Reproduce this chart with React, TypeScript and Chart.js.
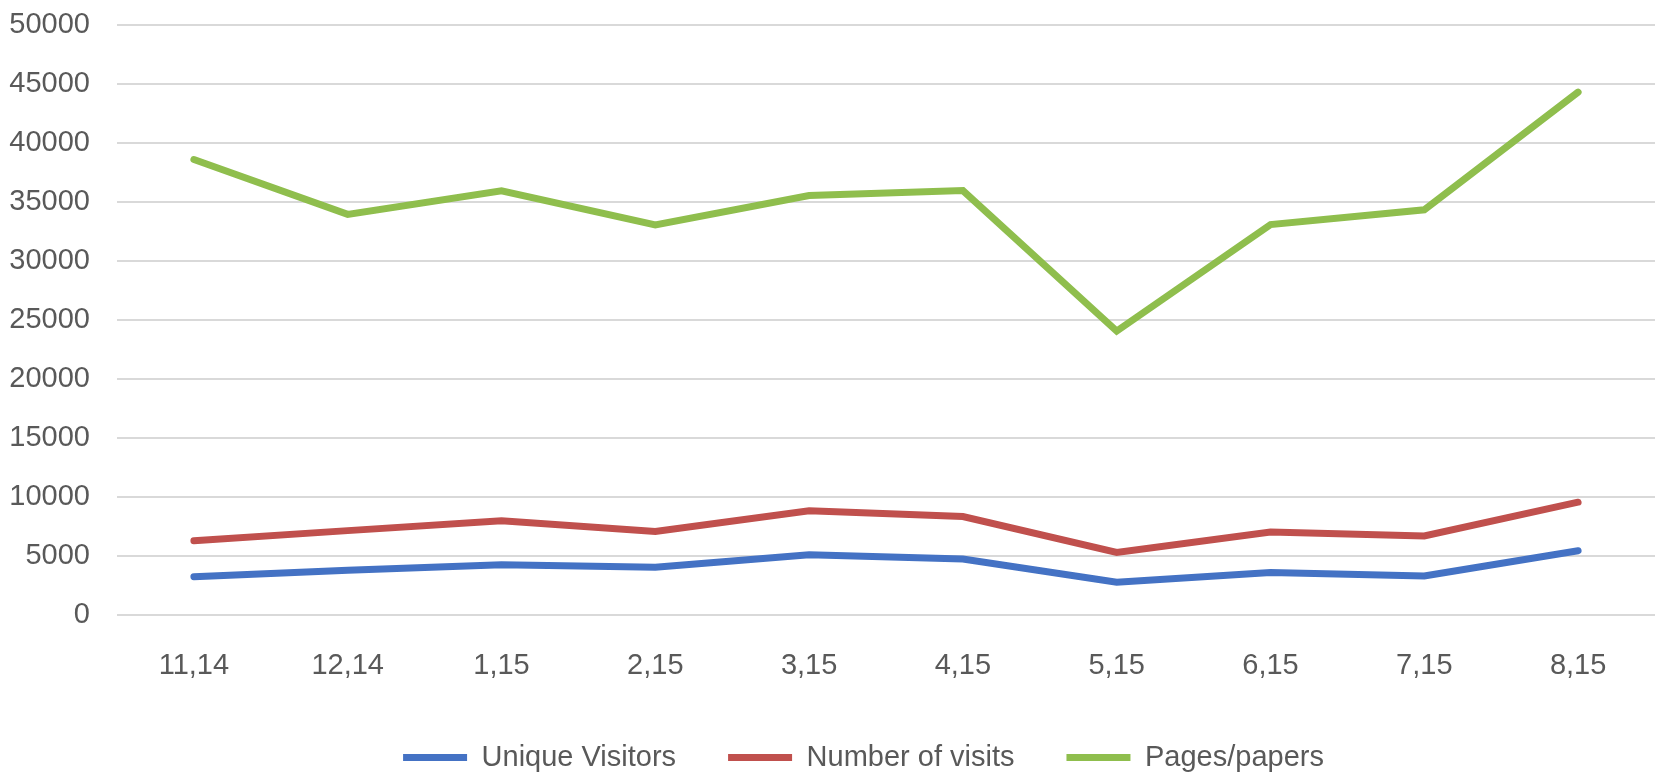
import React, { useEffect, useRef } from "react";
import { Chart, registerables } from "chart.js";

Chart.register(...registerables);

const categories = ["11,14", "12,14", "1,15", "2,15", "3,15", "4,15", "5,15", "6,15", "7,15", "8,15"];
const uniqueVisitors = [3250, 3800, 4250, 4050, 5100, 4750, 2770, 3600, 3300, 5450];
const numberOfVisits = [6300, 7150, 7990, 7080, 8830, 8340, 5300, 7030, 6700, 9560];
const pagesPapers = [38600, 33950, 35950, 33050, 35550, 35970, 24060, 33090, 34340, 44310];
const yTicks = [0, 5000, 10000, 15000, 20000, 25000, 30000, 35000, 40000, 45000, 50000];

const FONT = "'Liberation Sans', Arial, sans-serif";
const TEXT = "#595959";
const FS = 29;

export default function App() {
  const ref = useRef<HTMLCanvasElement | null>(null);
  useEffect(() => {
    if (!ref.current) return;
    const mk = (label: string, data: number[], color: string) => ({
      label,
      data,
      borderColor: color,
      backgroundColor: color,
      borderWidth: 7,
      pointRadius: 0,
      borderCapStyle: "round" as const,
      borderJoinStyle: "miter" as const,
      tension: 0,
      fill: false,
    });
    const shiftLegend = {
      id: "shiftLegend",
      beforeDraw(chart: any) {
        const lg = chart.legend;
        if (lg && !lg._shifted) {
          lg.left += 36;
          lg.right += 36;
          lg._shifted = true;
        }
      },
      afterLayout(chart: any) {
        if (chart.legend) chart.legend._shifted = false;
      },
    };
    const chart = new Chart(ref.current, {
      type: "line",
      data: {
        labels: categories,
        datasets: [
          mk("Unique Visitors", uniqueVisitors, "#4472C4"),
          mk("Number of visits", numberOfVisits, "#C0504D"),
          mk("Pages/papers", pagesPapers, "#8FBE4D"),
        ],
      },
      options: {
        animation: false,
        responsive: true,
        maintainAspectRatio: false,
        layout: { padding: { top: 25, left: 0, right: 0, bottom: -5 } },
        plugins: {
          tooltip: { enabled: false },
          legend: {
            position: "bottom",
            labels: {
              usePointStyle: true,
              pointStyle: "line",
              pointStyleWidth: 64,
              padding: 52,
              color: TEXT,
              font: { family: FONT, size: FS },
            },
          },
        },
        scales: {
          x: {
            offset: true,
            grid: { display: false, drawTicks: false },
            border: { display: false },
            ticks: {
              padding: 34,
              color: TEXT,
              font: { family: FONT, size: FS },
              maxRotation: 0,
            },
            afterFit: (s: any) => {
              s.height = 76;
              s.paddingLeft = 0;
              s.paddingRight = 0;
            },
          },
          y: {
            min: 0,
            max: 50000,
            afterBuildTicks: (s: any) => {
              s.ticks = yTicks.map((v) => ({ value: v }));
            },
            afterFit: (s: any) => {
              s.paddingTop = 17;
              s.width = 117;
            },
            grid: { color: "#D9D9D9", lineWidth: 2, drawTicks: false },
            border: { display: false },
            ticks: {
              padding: 27,
              color: TEXT,
              font: { family: FONT, size: FS },
              callback: (v: any) => String(v),
            },
          },
        },
      },
      plugins: [shiftLegend],
    });
    return () => chart.destroy();
  }, []);
  return (
    <div style={{ position: "fixed", left: 0, top: 0, width: "100vw", height: "100vh", background: "#fff" }}>
      <canvas ref={ref} />
    </div>
  );
}
